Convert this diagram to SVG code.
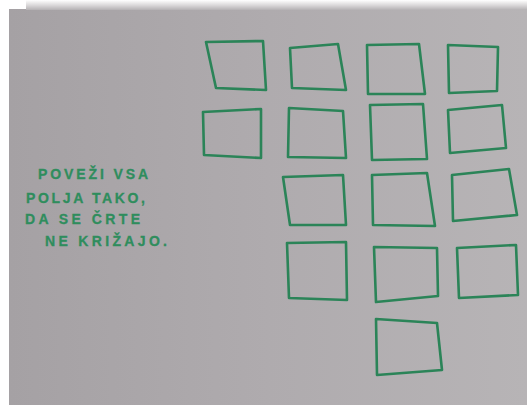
<svg xmlns="http://www.w3.org/2000/svg" width="527" height="405" viewBox="0 0 527 405">
  <defs>
    <linearGradient id="board" x1="0" y1="0" x2="1" y2="0">
      <stop offset="0" stop-color="#a5a1a4"/>
      <stop offset="0.5" stop-color="#afabae"/>
      <stop offset="1" stop-color="#b7b4b6"/>
    </linearGradient>
    <linearGradient id="shade" x1="0" y1="0" x2="0" y2="1">
      <stop offset="0" stop-color="#ffffff"/>
      <stop offset="0.55" stop-color="#d8d6d7"/>
      <stop offset="1" stop-color="#b4b1b3"/>
    </linearGradient>
    <style>
      .sq { fill: none; stroke: #2b8458; stroke-width: 2.6; stroke-linejoin: round; stroke-linecap: round; }
      .t { font-family: "Liberation Sans", Arial, sans-serif; font-size: 14px; font-weight: bold; fill: #2f8d5d; stroke: #2f8d5d; stroke-width: 0.3; }
    </style>
  </defs>
  <rect x="0" y="0" width="527" height="405" fill="#ffffff"/>
  <rect x="9" y="9" width="518" height="396" fill="url(#board)"/>
  <rect x="26" y="0" width="501" height="10" fill="url(#shade)"/>

  <g id="text">
    <text class="t" x="38" y="179" textLength="110" lengthAdjust="spacing">POVEŽI VSA</text>
    <text class="t" x="26" y="203" textLength="119" lengthAdjust="spacing">POLJA TAKO,</text>
    <text class="t" x="25" y="224" textLength="115" lengthAdjust="spacing">DA SE ČRTE</text>
    <text class="t" x="45" y="246" textLength="122" lengthAdjust="spacing">NE KRIŽAJO.</text>
  </g>

  <g id="sq1"><path class="sq" d="M206,42 L263,41 L266,90 L216,88 Z"/></g>
  <g id="sq2"><path class="sq" d="M290,48 L338,44 L346,90 L292,88 Z"/></g>
  <g id="sq3"><path class="sq" d="M367,45 L419,44 L425,94 L368,94 Z"/></g>
  <g id="sq4"><path class="sq" d="M448,45 L498,47 L497,91 L449,93 Z"/></g>

  <g id="sq5"><path class="sq" d="M203,112 L261,109 L261,158 L204,155 Z"/></g>
  <g id="sq6"><path class="sq" d="M289,108 L343,111 L346,158 L288,157 Z"/></g>
  <g id="sq7"><path class="sq" d="M370,105 L423,104 L427,159 L372,160 Z"/></g>
  <g id="sq8"><path class="sq" d="M448,110 L502,105 L506,148 L450,153 Z"/></g>

  <g id="sq9"><path class="sq" d="M283,177 L343,175 L346,225 L290,225 Z"/></g>
  <g id="sq10"><path class="sq" d="M372,175 L427,173 L435,226 L373,225 Z"/></g>
  <g id="sq11"><path class="sq" d="M452,175 L509,169 L517,215 L453,221 Z"/></g>

  <g id="sq12"><path class="sq" d="M287,243 L346,242 L347,300 L289,298 Z"/></g>
  <g id="sq13"><path class="sq" d="M374,247 L437,248 L438,296 L376,302 Z"/></g>
  <g id="sq14"><path class="sq" d="M457,248 L516,245 L518,295 L459,298 Z"/></g>

  <g id="sq15"><path class="sq" d="M376,319 L437,323 L442,370 L377,375 Z"/></g>
</svg>
